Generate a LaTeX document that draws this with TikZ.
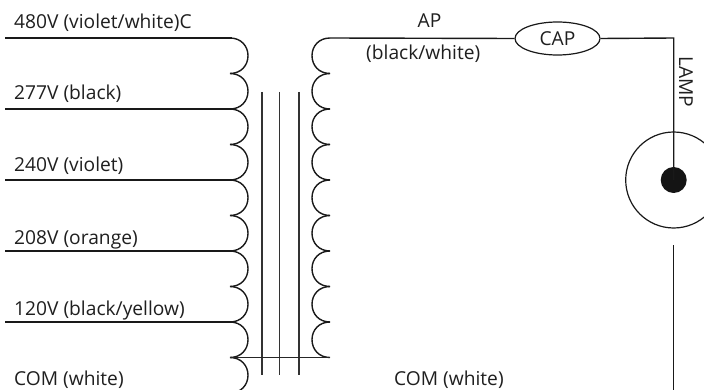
\documentclass[tikz,border=0pt]{standalone}
\usepackage{fontspec}
\setmainfont{Open Sans}
\usetikzlibrary{shapes.geometric}
\tikzset{
  wire/.style={line width=1.4pt,draw=black!90},
  coilline/.style={line width=1.4pt,draw=black!90},
  coreline/.style={line width=1.1pt,draw=black!80},
  busline/.style={line width=1pt,draw=black!85},
  lbl/.style={inner sep=0pt,anchor=base west,text=black!88,font=\fontsize{19.2pt}{22pt}\selectfont},
  lblc/.style={lbl,anchor=base},
  thin ring/.style={draw=black!90,line width=1.2pt,circle,inner sep=0pt,minimum size=96pt}
}
\begin{document}
\begin{tikzpicture}[x=1pt,y=-1pt]
\useasboundingbox (0,0) rectangle (704,390);
% taps
\coordinate (L0) at (5,38);
\coordinate (L1) at (5,109);
\coordinate (L2) at (5,180);
\coordinate (L3) at (5,251);
\coordinate (L4) at (5,322);
\coordinate (P0) at (232,38);
\coordinate (P1) at (232,109);
\coordinate (P2) at (232,180);
\coordinate (P3) at (232,251);
\coordinate (P4) at (232,322);
\coordinate (Pc) at (230,357.5);
\coordinate (S0) at (330,38);
\coordinate (Sc) at (330,357.5);
\foreach \i in {0,1,2,3,4} \draw[wire] (L\i) -- (P\i);
% primary coil
\clip (0,0) rectangle (704,390);
\foreach \y in {38,73.5,109,144.5,180,215.5,251,286.5,322,357.5}
  \draw[coilline] (230,\y) .. controls (241,\y+0) and (248,\y+8) .. (248,\y+17.7)
                  .. controls (248,\y+27.5) and (241,\y+35.5) .. (230,\y+35.5);
% secondary coil
\foreach \y in {38,73.5,109,144.5,180,215.5,251,286.5,322}
  \draw[coilline] (330,\y) .. controls (319,\y+0) and (312,\y+8) .. (312,\y+17.7)
                  .. controls (312,\y+27.5) and (319,\y+35.5) .. (330,\y+35.5);
% core
\coordinate (C1t) at (262,92); \coordinate (C1b) at (262,375);
\coordinate (C2t) at (279.7,92); \coordinate (C2b) at (279.7,375);
\coordinate (C3t) at (299,92); \coordinate (C3b) at (299,375);
\draw[coreline] (C1t) -- (C1b);
\draw[coreline] (C2t) -- (C2b);
\draw[coreline] (C3t) -- (C3b);
\draw[busline] (Pc) -- (Sc);
% capacitor and lamp
\node[draw=black!90,line width=1.2pt,ellipse,minimum width=85pt,minimum height=33pt,inner sep=0pt,
      font=\fontsize{19.2pt}{22pt}\selectfont,text=black!88] (cap) at (557.5,38.5) {CAP};
\node[thin ring] (ring) at (673.7,180) {};
\node[circle,fill=black!92,inner sep=0pt,minimum size=26pt] (dot) at (673.7,180) {};
\coordinate (corner) at (673.7,38);
\coordinate (lowT) at (673.7,245);
\coordinate (lowB) at (673.7,391);
\draw[wire] (S0) -- (cap.west);
\draw[wire] (cap.east) -- (corner) -- (dot.center);
\draw[wire] (lowT) -- (lowB);
% labels
\node[lbl] (t1) at (14,29) {480V (violet/white)C};
\node[lbl] (t2) at (14,100) {277V (black)};
\node[lbl] (t3) at (14,172) {240V (violet)};
\node[lbl] (t4) at (14,244) {208V (orange)};
\node[lbl] (t5) at (14,315) {120V (black/yellow)};
\node[lbl] (t6) at (14,385) {COM (white)};
\node[lblc] (t7) at (429.5,28) {AP};
\node[lbl] (t8) at (366,60) {(black/white)};
\node[lbl] (t9) at (394,385) {COM (white)};
\node[lbl,rotate=-90] (t10) at (679,56) {LAMP};
\end{tikzpicture}
\end{document}
